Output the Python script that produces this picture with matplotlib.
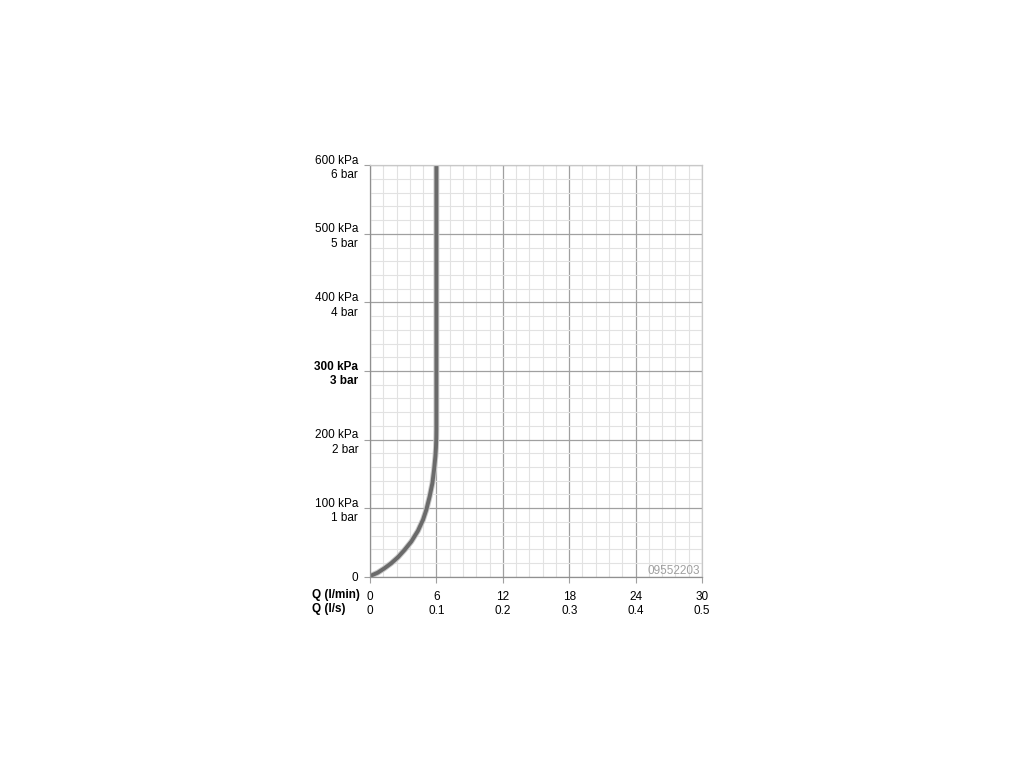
import matplotlib
matplotlib.use("Agg")
import matplotlib.pyplot as plt
from matplotlib.ticker import MultipleLocator

# flow curve: Q in l/min, pressure in kPa
q_lpm = [0.0, 0.09, 0.7, 1.3, 1.91, 2.52, 3.12, 3.73, 4.33, 4.79, 5.09, 5.39, 5.64, 5.79, 5.91, 5.96, 5.99, 6.0, 6.0]
p_kpa = [0.0, 1.5, 5.9, 12.2, 19.5, 28.3, 39.0, 51.2, 66.8, 83.0, 97.6, 117.0, 136.6, 156.0, 175.6, 188.0, 202.0, 215.0, 600.0]

x_ticks = [0, 6, 12, 18, 24, 30]
x_labels = ["0\n0", "6\n0.1", "12\n0.2", "18\n0.3", "24\n0.4", "30\n0.5"]
y_ticks = [0, 100, 200, 300, 400, 500, 600]
y_labels = ["0", "100 kPa\n1 bar", "200 kPa\n2 bar", "300 kPa\n3 bar",
            "400 kPa\n4 bar", "500 kPa\n5 bar", "600 kPa\n6 bar"]
code = "09552203"

plt.rcParams['font.family'] = ['Liberation Sans', 'DejaVu Sans']

fig = plt.figure(figsize=(10.24, 7.68), dpi=100)
ax = fig.add_axes([370 / 1024, 191.3 / 768, 332 / 1024, 411.4 / 768])

ax.set_xlim(0, 30)
ax.set_ylim(0, 600)

# grid: fine lines every 1.2 l/min / 20 kPa, stronger ones on the ticks
ax.xaxis.set_minor_locator(MultipleLocator(1.2))
ax.yaxis.set_minor_locator(MultipleLocator(20))
ax.grid(which='minor', color='#e2e2e2', linewidth=0.8)
ax.grid(which='major', color='#a0a0a0', linewidth=0.9)
ax.set_axisbelow(True)
ax.tick_params(which='minor', length=0)

ax.set_xticks(x_ticks)
ax.set_xticklabels(x_labels, fontsize=8.5, linespacing=1.3)
ax.set_yticks(y_ticks)
ax.set_yticklabels(y_labels, fontsize=8.5, linespacing=1.3)
ax.tick_params(which='major', length=4, width=0.8, color='#a0a0a0', pad=6)
ax.tick_params(axis='y', pad=4.5)
for lbl in ax.get_yticklabels():
    lbl.set_horizontalalignment('right')
    if lbl.get_text().startswith('300'):
        lbl.set_fontweight('bold')

for side in ['left', 'bottom']:
    ax.spines[side].set_color('#909090')
    ax.spines[side].set_linewidth(0.9)
for side in ['top', 'right']:
    ax.spines[side].set_color('#c8c8c8')
    ax.spines[side].set_linewidth(0.9)

ax.plot(q_lpm, p_kpa, color='#c8c8c8', linewidth=4.2, solid_capstyle='round')
ax.plot(q_lpm, p_kpa, color='#6a6a6a', linewidth=2.8, solid_capstyle='round')

ax.text(0.995, 0.0, code, transform=ax.transAxes, ha='right', va='bottom',
        fontsize=8.5, color='#a0a0a0')

fig.text(312 / 1024, 1 - 595 / 768, "Q (l/min)", ha='left', va='center',
         fontsize=8.5, fontweight='bold')
fig.text(312 / 1024, 1 - 609 / 768, "Q (l/s)", ha='left', va='center',
         fontsize=8.5, fontweight='bold')

fig.savefig("out.png", dpi=100)
